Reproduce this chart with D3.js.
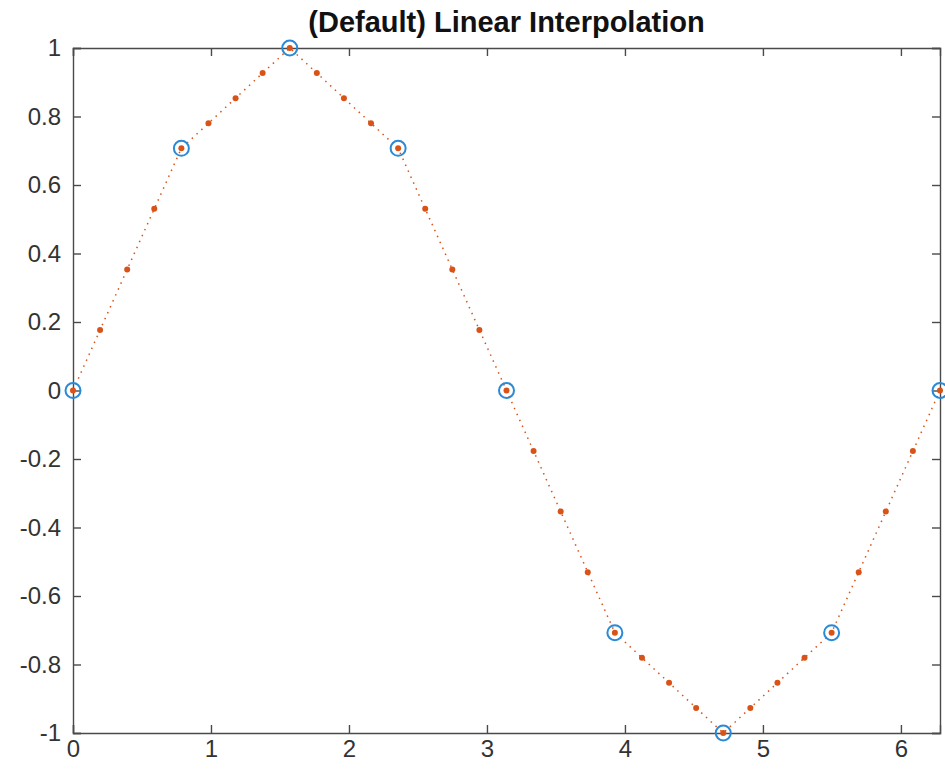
<!DOCTYPE html>
<html>
  <head>
    <meta charset="utf-8" />
    <title>(Default) Linear Interpolation</title>
    <style>
      body {
        margin: 0;
        background: #fff;
      }
      svg {
        font-family: "Liberation Sans", Arial, sans-serif;
      }
    </style>
  </head>
  <body>
    <svg id="chart"></svg>
    <script src="https://cdn.jsdelivr.net/npm/d3@7"></script>
    <script>
      const width = 945;
      const height = 774;

      // sample points (blue circles)
      const sampleX = [0, 0.7854, 1.5708, 2.3562, 3.1416, 3.927, 4.7124, 5.4978, 6.2832];
      const sampleY = [0, 0.7071, 1, 0.7071, 0, -0.7071, -1, -0.7071, 0];

      // query points (orange dots, dotted line)
      const queryX = [
        0, 0.1963, 0.3927, 0.589, 0.7854, 0.9817, 1.1781, 1.3744, 1.5708,
        1.7671, 1.9635, 2.1598, 2.3562, 2.5525, 2.7489, 2.9452, 3.1416,
        3.3379, 3.5343, 3.7306, 3.927, 4.1233, 4.3197, 4.516, 4.7124,
        4.9087, 5.1051, 5.3014, 5.4978, 5.6941, 5.8905, 6.0868, 6.2832
      ];
      const queryY = [
        0, 0.1768, 0.3536, 0.5303, 0.7071, 0.7803, 0.8536, 0.9268, 1,
        0.9268, 0.8536, 0.7803, 0.7071, 0.5303, 0.3536, 0.1768, 0,
        -0.1768, -0.3536, -0.5303, -0.7071, -0.7803, -0.8536, -0.9268, -1,
        -0.9268, -0.8536, -0.7803, -0.7071, -0.5303, -0.3536, -0.1768, 0
      ];

      const xTicks = [0, 1, 2, 3, 4, 5, 6];
      const yTicks = [-1, -0.8, -0.6, -0.4, -0.2, 0, 0.2, 0.4, 0.6, 0.8, 1];
      const title = "(Default) Linear Interpolation";

      const plotLeft = 73, plotRight = 940, plotTop = 48, plotBottom = 733;
      const axisColor = "#4a4a4a";
      const tickLen = 8;

      const svg = d3.select("#chart").attr("width", width).attr("height", height);

      const x = d3.scaleLinear().domain([0, 2 * Math.PI]).range([plotLeft, plotRight]);
      const y = d3.scaleLinear().domain([-1, 1]).range([plotBottom, plotTop]);

      // inward ticks on all four sides (box on)
      svg.append("g")
        .attr("transform", `translate(0,${plotBottom})`)
        .call(d3.axisBottom(x).tickValues(xTicks).tickSize(-tickLen).tickPadding(7).tickFormat(d3.format("d")));
      svg.append("g")
        .attr("transform", `translate(0,${plotTop})`)
        .call(d3.axisTop(x).tickValues(xTicks).tickSize(-tickLen).tickFormat(""));
      svg.append("g")
        .attr("transform", `translate(${plotLeft},0)`)
        .call(d3.axisLeft(y).tickValues(yTicks).tickSize(-tickLen).tickPadding(12).tickFormat(d => String(+d.toFixed(1))));
      svg.append("g")
        .attr("transform", `translate(${plotRight},0)`)
        .call(d3.axisRight(y).tickValues(yTicks).tickSize(-tickLen).tickFormat(""));

      svg.selectAll(".domain").attr("stroke", axisColor).attr("stroke-width", 1.4);
      svg.selectAll(".tick line").attr("stroke", axisColor).attr("stroke-width", 1.4);
      svg.selectAll(".tick text")
        .attr("fill", "#333")
        .style("font-size", "24px");

      // dotted interpolation line
      const line = d3.line().x((d, i) => x(queryX[i])).y(d => y(d));
      svg.append("path")
        .datum(queryY)
        .attr("fill", "none")
        .attr("stroke", "#D95319")
        .attr("stroke-width", 1.5)
        .attr("stroke-dasharray", "1.5,5")
        .attr("d", line);

      svg.append("g")
        .selectAll("circle")
        .data(queryY)
        .join("circle")
        .attr("cx", (d, i) => x(queryX[i]))
        .attr("cy", d => y(d))
        .attr("r", 3)
        .attr("fill", "#D95319");

      svg.append("g")
        .selectAll("circle")
        .data(sampleY)
        .join("circle")
        .attr("cx", (d, i) => x(sampleX[i]))
        .attr("cy", d => y(d))
        .attr("r", 7.5)
        .attr("fill", "none")
        .attr("stroke", "#2a8ad6")
        .attr("stroke-width", 2);

      svg.append("text")
        .attr("x", (plotLeft + plotRight) / 2)
        .attr("y", 32)
        .attr("text-anchor", "middle")
        .attr("fill", "#111")
        .style("font-size", "29px")
        .style("font-weight", "bold")
        .text(title);
    </script>
  </body>
</html>
